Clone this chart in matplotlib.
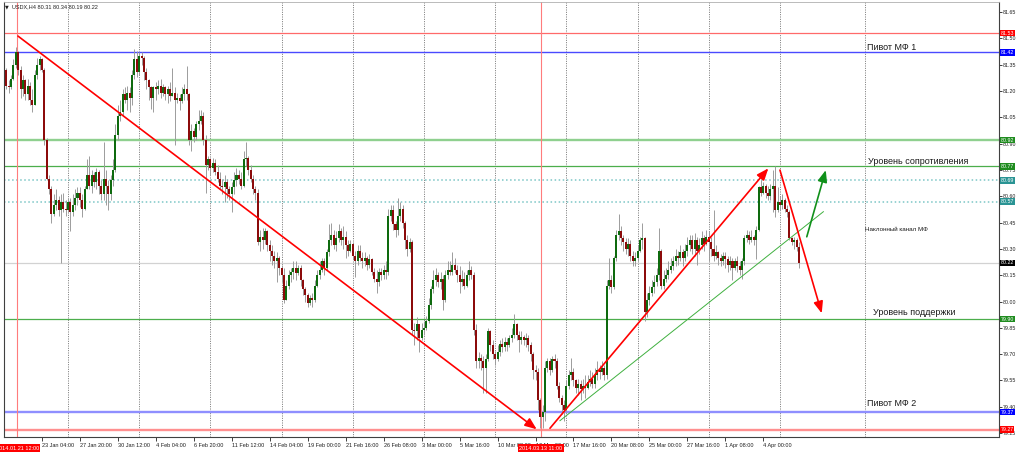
import numpy as np
import matplotlib.pyplot as plt
import matplotlib.transforms as mtransforms

plt.rcParams['font.family'] = ['Liberation Sans', 'DejaVu Sans']

## USDX H4 candles, bar 0 = 20 Jan 2014 16:00 (open of each bar = previous close)
first_open = 81.32
close = [81.23, 81.22, 81.27, 81.35, 81.42, 81.32, 81.21, 81.26, 81.18, 81.23,
         81.15, 81.12, 81.29, 81.35, 81.38, 81.32, 80.92, 80.70, 80.64, 80.50,
         80.55, 80.58, 80.52, 80.57, 80.53, 80.52, 80.57, 80.51, 80.55, 80.59,
         80.62, 80.58, 80.53, 80.64, 80.72, 80.66, 80.72, 80.68, 80.74, 80.66,
         80.61, 80.70, 80.66, 80.61, 80.69, 80.75, 80.95, 81.06, 81.08, 81.18,
         81.15, 81.19, 81.16, 81.29, 81.38, 81.31, 81.40, 81.39, 81.31, 81.26,
         81.22, 81.16, 81.22, 81.21, 81.23, 81.19, 81.22, 81.18, 81.21, 81.17,
         81.19, 81.15, 81.16, 81.14, 81.18, 81.21, 81.18, 80.92, 80.97, 80.94,
         81.01, 81.03, 81.06, 80.92, 80.78, 80.81, 80.76, 80.79, 80.74, 80.70,
         80.66, 80.65, 80.68, 80.64, 80.61, 80.65, 80.69, 80.72, 80.70, 80.66,
         80.81, 80.82, 80.75, 80.70, 80.64, 80.62, 80.34, 80.37, 80.35, 80.40,
         80.32, 80.29, 80.26, 80.23, 80.25, 80.19, 80.15, 80.01, 80.09, 80.15,
         80.17, 80.19, 80.16, 80.19, 80.12, 80.07, 80.04, 79.99, 80.02, 80.01,
         80.09, 80.15, 80.18, 80.23, 80.19, 80.28, 80.35, 80.38, 80.32, 80.36,
         80.40, 80.35, 80.37, 80.32, 80.29, 80.33, 80.26, 80.23, 80.29, 80.25,
         80.23, 80.25, 80.21, 80.24, 80.17, 80.13, 80.11, 80.17, 80.15, 80.18,
         80.17, 80.49, 80.52, 80.44, 80.41, 80.49, 80.53, 80.45, 80.35, 80.30,
         80.34, 79.84, 79.83, 79.87, 79.79, 79.84, 79.85, 79.89, 79.98, 80.07,
         80.12, 80.15, 80.11, 80.13, 80.01, 80.15, 80.18, 80.17, 80.21, 80.18,
         80.15, 80.11, 80.13, 80.09, 80.15, 80.18, 80.15, 79.84, 79.66, 79.68,
         79.66, 79.62, 79.67, 79.83, 79.75, 79.70, 79.67, 79.71, 79.76, 79.74,
         79.77, 79.75, 79.79, 79.81, 79.87, 79.81, 79.78, 79.80, 79.78, 79.79,
         79.75, 79.70, 79.61, 79.60, 79.44, 79.34, 79.37, 79.62, 79.66, 79.61,
         79.67, 79.66, 79.52, 79.45, 79.41, 79.38, 79.52, 79.58, 79.60, 79.55,
         79.51, 79.53, 79.50, 79.52, 79.51, 79.54, 79.56, 79.53, 79.58, 79.61,
         79.60, 79.62, 79.58, 80.09, 80.12, 80.08, 80.25, 80.38, 80.40, 80.36,
         80.34, 80.30, 80.33, 80.26, 80.23, 80.25, 80.29, 80.35, 80.36, 79.94,
         80.01, 80.05, 80.08, 80.11, 80.15, 80.29, 80.09, 80.13, 80.15, 80.18,
         80.20, 80.23, 80.26, 80.25, 80.28, 80.25, 80.29, 80.32, 80.35, 80.30,
         80.35, 80.29, 80.32, 80.36, 80.33, 80.37, 80.34, 80.30, 80.26, 80.28,
         80.25, 80.23, 80.26, 80.24, 80.21, 80.23, 80.19, 80.23, 80.20, 80.18,
         80.23, 80.36, 80.38, 80.35, 80.37, 80.35, 80.41, 80.65, 80.62, 80.66,
         80.62, 80.60, 80.64, 80.66, 80.52, 80.57, 80.55, 80.58, 80.53, 80.51,
         80.36, 80.34, 80.35, 80.31, 80.22]
high = [81.33, 81.26, 81.29, 81.38, 81.45, 81.43, 81.34, 81.29, 81.27, 81.27,
        81.25, 81.21, 81.32, 81.39, 81.40, 81.39, 81.33, 80.93, 80.72, 80.66,
        80.61, 80.64, 80.60, 80.61, 80.62, 80.58, 80.59, 80.59, 80.61, 80.64,
        80.65, 80.65, 80.61, 80.66, 80.81, 80.83, 80.75, 80.74, 80.76, 80.75,
        80.69, 80.91, 80.75, 80.69, 80.72, 80.81, 81.01, 81.12, 81.15, 81.21,
        81.22, 81.23, 81.22, 81.32, 81.44, 81.43, 81.42, 81.42, 81.40, 81.33,
        81.27, 81.23, 81.23, 81.25, 81.26, 81.27, 81.24, 81.23, 81.23, 81.25,
        81.33, 81.22, 81.19, 81.18, 81.22, 81.24, 81.34, 81.19, 81.01, 80.99,
        81.03, 81.09, 81.09, 81.08, 80.95, 80.83, 80.82, 80.82, 80.81, 80.78,
        80.74, 80.70, 80.72, 80.70, 80.66, 80.68, 80.74, 80.76, 80.75, 80.74,
        80.86, 80.91, 80.83, 80.78, 80.72, 80.66, 80.64, 80.41, 80.42, 80.42,
        80.41, 80.35, 80.32, 80.29, 80.28, 80.26, 80.21, 80.19, 80.12, 80.18,
        80.19, 80.23, 80.23, 80.21, 80.21, 80.13, 80.08, 80.05, 80.04, 80.05,
        80.12, 80.18, 80.23, 80.25, 80.25, 80.30, 80.44, 80.45, 80.41, 80.40,
        80.44, 80.42, 80.43, 80.40, 80.35, 80.35, 80.34, 80.29, 80.32, 80.32,
        80.28, 80.28, 80.26, 80.27, 80.25, 80.19, 80.18, 80.19, 80.19, 80.21,
        80.23, 80.53, 80.55, 80.55, 80.46, 80.59, 80.57, 80.55, 80.46, 80.38,
        80.36, 80.35, 79.88, 79.91, 79.87, 79.88, 79.89, 79.92, 80.02, 80.09,
        80.18, 80.19, 80.17, 80.17, 80.15, 80.18, 80.23, 80.23, 80.28, 80.25,
        80.21, 80.20, 80.18, 80.17, 80.18, 80.23, 80.20, 80.17, 79.87, 79.71,
        79.70, 79.69, 79.70, 79.85, 79.84, 79.78, 79.72, 79.75, 79.78, 79.79,
        79.80, 79.79, 79.81, 79.85, 79.93, 79.88, 79.83, 79.83, 79.81, 79.82,
        79.81, 79.77, 79.71, 79.64, 79.62, 79.45, 79.41, 79.66, 79.68, 79.68,
        79.69, 79.70, 79.68, 79.54, 79.47, 79.44, 79.55, 79.61, 79.68, 79.62,
        79.56, 79.56, 79.55, 79.56, 79.58, 79.58, 79.61, 79.60, 79.62, 79.66,
        79.64, 79.66, 79.64, 80.12, 80.25, 80.15, 80.26, 80.41, 80.50, 80.43,
        80.38, 80.36, 80.36, 80.35, 80.29, 80.28, 80.32, 80.37, 80.45, 80.37,
        80.05, 80.09, 80.12, 80.15, 80.19, 80.42, 80.30, 80.18, 80.19, 80.23,
        80.25, 80.26, 80.30, 80.29, 80.32, 80.30, 80.33, 80.37, 80.38, 80.38,
        80.39, 80.37, 80.36, 80.40, 80.38, 80.41, 80.40, 80.37, 80.52, 80.32,
        80.29, 80.27, 80.28, 80.28, 80.26, 80.26, 80.25, 80.25, 80.26, 80.23,
        80.25, 80.38, 80.41, 80.40, 80.41, 80.38, 80.43, 80.66, 80.69, 80.68,
        80.67, 80.66, 80.67, 80.75, 80.77, 80.65, 80.60, 80.61, 80.59, 80.55,
        80.52, 80.37, 80.37, 80.36, 80.34]
low = [81.21, 81.19, 81.21, 81.26, 81.33, 81.29, 81.16, 81.17, 81.15, 81.15,
       81.12, 81.08, 81.23, 81.27, 81.32, 81.31, 80.89, 80.69, 80.61, 80.45,
       80.49, 80.52, 80.49, 80.22, 80.51, 80.49, 80.51, 80.40, 80.49, 80.52,
       80.55, 80.54, 80.48, 80.52, 80.64, 80.64, 80.62, 80.65, 80.64, 80.61,
       80.58, 80.58, 80.55, 80.52, 80.58, 80.66, 80.74, 80.92, 81.03, 81.06,
       81.13, 81.09, 81.08, 81.12, 81.27, 81.28, 81.29, 81.35, 81.26, 81.21,
       81.15, 81.10, 81.08, 81.15, 81.18, 81.16, 81.17, 81.15, 81.13, 81.14,
       81.17, 80.89, 81.13, 81.09, 81.13, 81.15, 81.15, 80.89, 80.86, 80.91,
       80.92, 80.98, 81.01, 80.89, 80.62, 80.75, 80.72, 80.74, 80.72, 80.68,
       80.64, 80.61, 80.57, 80.59, 80.58, 80.51, 80.61, 80.66, 80.67, 80.64,
       80.65, 80.77, 80.72, 80.68, 80.61, 80.58, 80.32, 80.29, 80.30, 80.33,
       80.29, 80.23, 80.21, 80.19, 80.11, 80.15, 80.11, 79.99, 80.01, 80.07,
       80.11, 80.13, 80.12, 80.15, 80.09, 80.04, 80.00, 79.97, 79.98, 79.97,
       80.00, 80.08, 80.13, 80.17, 80.15, 80.18, 80.26, 80.32, 80.30, 80.29,
       80.34, 80.32, 80.30, 80.25, 80.26, 80.28, 80.24, 80.14, 80.21, 80.23,
       80.19, 80.20, 80.18, 80.19, 80.15, 80.11, 80.05, 80.09, 80.12, 80.13,
       80.13, 80.15, 80.46, 80.41, 80.37, 80.38, 80.46, 80.42, 80.30, 80.26,
       80.28, 79.81, 79.75, 79.78, 79.71, 79.78, 79.81, 79.84, 79.88, 79.96,
       80.05, 80.09, 80.08, 80.07, 79.95, 80.00, 80.13, 80.15, 80.15, 80.16,
       80.11, 80.05, 80.09, 80.07, 80.08, 80.12, 80.13, 79.81, 79.62, 79.62,
       79.61, 79.48, 79.48, 79.66, 79.72, 79.67, 79.64, 79.66, 79.69, 79.71,
       79.72, 79.72, 79.74, 79.77, 79.79, 79.78, 79.71, 79.76, 79.75, 79.74,
       79.72, 79.66, 79.56, 79.55, 79.38, 79.28, 79.28, 79.32, 79.60, 79.58,
       79.60, 79.62, 79.50, 79.43, 79.36, 79.32, 79.37, 79.50, 79.55, 79.52,
       79.48, 79.47, 79.44, 79.48, 79.45, 79.50, 79.52, 79.51, 79.51, 79.55,
       79.56, 79.58, 79.55, 79.56, 80.07, 80.05, 80.07, 80.23, 80.35, 80.32,
       80.29, 80.27, 80.26, 80.23, 80.20, 80.20, 80.23, 80.28, 80.30, 79.89,
       79.91, 79.98, 80.03, 80.05, 80.09, 80.12, 80.07, 80.07, 80.11, 80.13,
       80.16, 80.18, 80.20, 80.21, 80.23, 80.20, 80.23, 80.26, 80.29, 80.27,
       80.26, 80.21, 80.27, 80.30, 80.29, 80.32, 80.23, 80.26, 80.23, 80.24,
       80.21, 80.20, 80.21, 80.19, 80.17, 80.18, 80.12, 80.18, 80.17, 80.15,
       80.13, 80.21, 80.34, 80.33, 80.34, 80.32, 80.24, 80.40, 80.60, 80.61,
       80.59, 80.58, 80.58, 80.51, 80.48, 80.51, 80.52, 80.53, 80.51, 80.48,
       80.35, 80.32, 80.30, 80.29, 80.19]

## Time axis (bar index) labels and weekly separators
tick_bars = [15, 31, 47, 63, 79, 95, 111, 127, 143, 159,
             175, 191, 207, 223, 239, 255, 271, 287, 303, 319]
tick_labels = ['23 Jan 04:00', '27 Jan 20:00', '30 Jan 12:00', '4 Feb 04:00', '6 Feb 20:00',
               '11 Feb 12:00', '14 Feb 04:00', '19 Feb 00:00', '21 Feb 16:00', '26 Feb 08:00',
               '3 Mar 00:00', '5 Mar 16:00', '10 Mar 08:00', '13 Mar 00:00', '17 Mar 16:00',
               '20 Mar 08:00', '25 Mar 00:00', '27 Mar 16:00', '1 Apr 08:00', '4 Apr 00:00']
week_bars = [26, 56, 86, 116, 146, 176, 206, 236, 266, 296, 326, 362]
price_ticks = [79.25, 79.40, 79.55, 79.70, 79.85, 80.00, 80.15, 80.30, 80.45,
               80.60, 80.75, 80.90, 81.05, 81.20, 81.35, 81.50, 81.65]

## Horizontal levels
levels = [81.53, 81.42, 80.92, 80.77, 80.69, 80.57, 80.22, 79.90, 79.37, 79.27]
level_colors = ['#ff6a6a', '#4a4aff', '#8fd08f', '#4cae4c', '#7cc6c6',
                '#7cc6c6', '#d2d2d2', '#4cae4c', '#8f8fff', '#ff8f8f']
level_styles = ['-', '-', '-', '-', ':', ':', '-', '-', '-', '-']
level_widths = [0.9, 1.0, 1.7, 0.9, 1.1, 1.1, 0.9, 0.9, 1.7, 1.7]
tag_colors = ['#ff0000', '#0000ff', '#1f8c1f', '#1f8c1f', '#2a9494',
              '#2a9494', '#000000', '#1f8c1f', '#0000ff', '#ff0000']

## Vertical cursor lines
cursor_bars = [4.6, 225.3]
cursor_labels = ['2014.01.21 12:00', '2014.03.13 11:00']

## Drawn objects: (bar, price) anchors
main_trend = [(4.9, 81.513), (223.5, 79.272)]
up_arrow = [(229.1, 79.278), (321.1, 80.759)]
down_arrow = [(326.0, 80.749), (343.6, 79.933)]
green_arrow = [(337.3, 80.369), (345.3, 80.749)]
channel = [(233.3, 79.321), (344.3, 80.512)]

notes = ['Пивот МФ 1', 'Уровень сопротивления', 'Наклонный канал МФ', 'Уровень поддержки', 'Пивот МФ 2']
note_bars = [362.7, 363.1, 361.9, 365.2, 362.7]
note_prices = [81.45, 80.80, 80.41, 79.94, 79.42]
note_sizes = [6.5, 6.5, 4.5, 6.5, 6.5]

n = min(len(close), len(high), len(low))
c = np.array(close[:n])
o = np.array([first_open] + close[:n - 1])
h = np.maximum(np.array(high[:n]), np.maximum(o, c))
l = np.minimum(np.array(low[:n]), np.minimum(o, c))
x = np.arange(n)

fig = plt.figure(figsize=(10.24, 4.55), dpi=100)
ax = fig.add_axes([4 / 1024, 18 / 455, 995 / 1024, 435 / 455])
ax.set_xlim(-0.97, 418.3)
ax.set_ylim(79.228, 81.707)

# weekly separators
for b in week_bars:
    ax.axvline(b, color='#606060', lw=0.6, ls=(0, (1.2, 1.6)), zorder=1)

# levels
for lv, col, ls, lw in zip(levels, level_colors, level_styles, level_widths):
    ax.axhline(lv, color=col, lw=lw, ls=ls, zorder=1.5)

for b in cursor_bars:
    ax.axvline(b, color='#ff7c7c', lw=0.8, zorder=1.5)

# candles
ax.vlines(x, l, h, color='#9c9c9c', lw=0.7, zorder=3)
body_bottom = np.minimum(o, c)
body_height = np.maximum(np.abs(c - o), 0.004)
body_colors = np.where(c >= o, '#0e6a0e', '#8c0b0b')
ax.bar(x, body_height, bottom=body_bottom, width=0.85, color=body_colors, linewidth=0, zorder=4)

# trend line, channel and arrows
def arrow(pts, color, lw=1.2):
    ax.annotate('', xy=pts[1], xytext=pts[0], zorder=6,
                arrowprops=dict(arrowstyle='-|>,head_length=0.7,head_width=0.28', color=color,
                                lw=lw, shrinkA=0, shrinkB=0, mutation_scale=10))

arrow(main_trend, '#ff0000')
arrow(up_arrow, '#ff0000')
arrow(down_arrow, '#ff0000')
arrow(green_arrow, '#10901a')
ax.plot([p[0] for p in channel], [p[1] for p in channel], color='#3fb03f', lw=0.7, zorder=5)

for txt, b, p, fs in zip(notes, note_bars, note_prices, note_sizes):
    ax.text(b, p, txt, fontsize=fs, color='#1a1a1a', ha='left', va='center', zorder=7)

# axes styling
for side in ['left', 'right', 'bottom']:
    ax.spines[side].set_color('#404040')
    ax.spines[side].set_linewidth(0.8)
ax.spines['top'].set_color('#b0b0b0')
ax.spines['top'].set_linewidth(0.6)

ax.yaxis.tick_right()
ax.set_yticks(price_ticks)
ax.set_yticklabels(['%.2f' % t for t in price_ticks])
ax.tick_params(axis='y', length=2, width=0.6, pad=1, labelsize=3.8, colors='#202020')

ax.set_xticks(tick_bars)
ax.set_xticklabels(tick_labels)
ax.tick_params(axis='x', length=3, width=0.6, pad=1.5, labelsize=4, colors='#202020')
for lbl in ax.get_xticklabels():
    lbl.set_ha('left')

# price tags on the right axis
ytrans = mtransforms.blended_transform_factory(ax.transAxes, ax.transData)
for lv, col in zip(levels, tag_colors):
    ax.text(1.0015, lv, '%.2f' % lv, transform=ytrans, fontsize=3.8, color='white',
            ha='left', va='center', zorder=10, clip_on=False,
            bbox=dict(boxstyle='square,pad=0.15', fc=col, ec='none'))

# time tags for the cursor lines
xtrans = mtransforms.blended_transform_factory(ax.transData, ax.transAxes)
for b, txt in zip(cursor_bars, cursor_labels):
    ax.text(b, -0.0253, txt, transform=xtrans, fontsize=4, color='white',
            ha='center', va='center', zorder=10, clip_on=False,
            bbox=dict(boxstyle='square,pad=0.2', fc='#ff0000', ec='none'))

# header
fig.text(5 / 1024, 1 - 7 / 455, '▼', fontsize=3.5, color='#202020', va='center', family=['DejaVu Sans'])
fig.text(12 / 1024, 1 - 7 / 455, 'USDX,H4 %.2f %.2f %.2f %.2f' % (o[-1], h[-1], l[-1], c[-1]),
         fontsize=4, color='#202020', va='center')

fig.savefig('out.png', dpi=100)
